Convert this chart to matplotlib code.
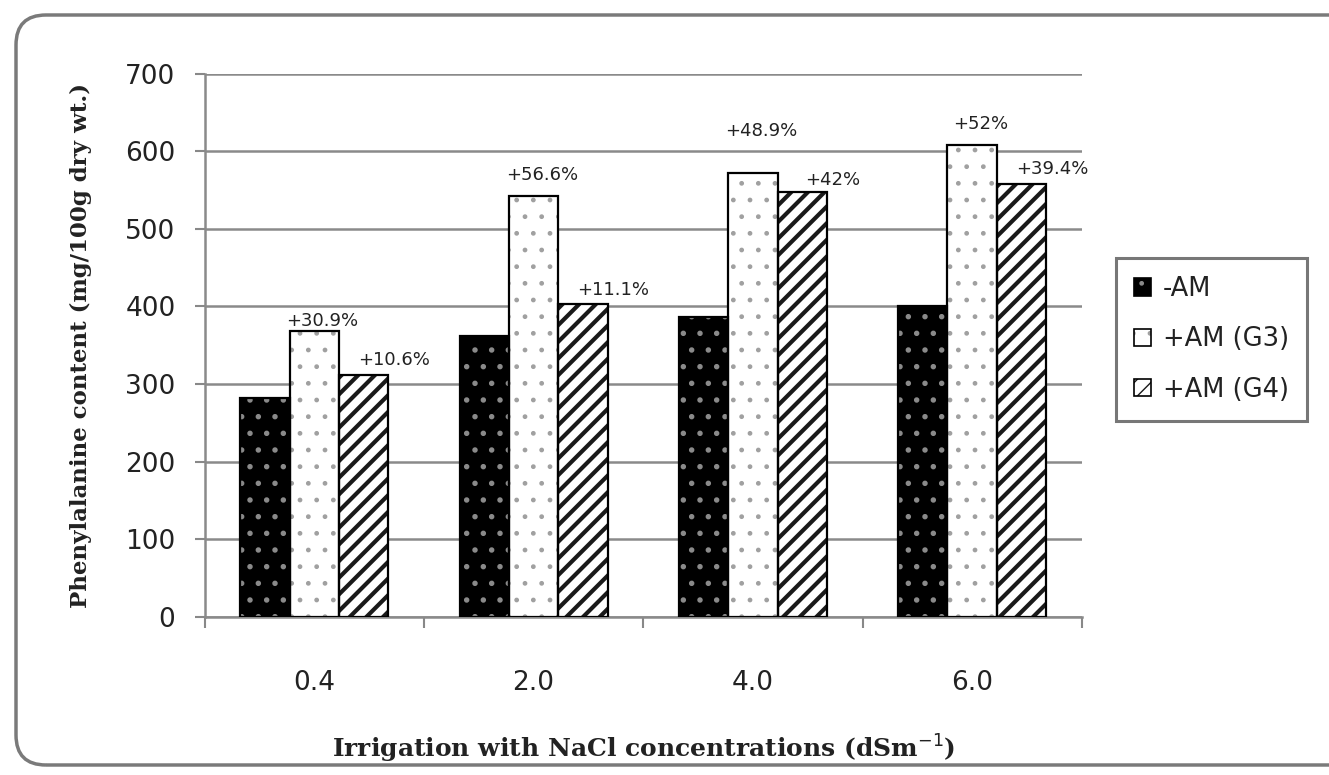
import matplotlib
matplotlib.use('Agg')
import matplotlib.pyplot as plt
from matplotlib.patches import FancyBboxPatch, Patch
from matplotlib.transforms import IdentityTransform
import numpy as np

concentrations = ['0.4', '2.0', '4.0', '6.0']
series_names = ['-AM', '+AM (G3)', '+AM (G4)']
no_am = [282, 362, 387, 400]
am_g3 = [368, 542, 572, 608]
am_g4 = [312, 403, 548, 558]
g3_labels = ['+30.9%', '+56.6%', '+48.9%', '+52%']
g4_labels = ['+10.6%', '+11.1%', '+42%', '+39.4%']

fig = plt.figure(figsize=(13.29, 7.75), dpi=100)
ax = fig.add_axes([0.154, 0.204, 0.660, 0.701])

# rounded frame around the whole chart
frame = FancyBboxPatch((16, 10), 1345, 750, boxstyle='round,pad=0,rounding_size=30',
                       transform=IdentityTransform(), facecolor='none',
                       edgecolor='#7a7a7a', linewidth=2.5, zorder=0)
fig.patches.append(frame)

x = np.arange(len(concentrations))
w = 0.225
styles = [
    dict(face='black', hatch='.', hcolor='#8a8a8a', hlw=1.5),
    dict(face='white', hatch='.', hcolor='#a0a0a0', hlw=1.0),
    dict(face='white', hatch='//', hcolor='#1a1a1a', hlw=3.0),
]
values = [no_am, am_g3, am_g4]


def hatch_width(artist, lw):
    if hasattr(artist, 'set_hatch_linewidth'):
        artist.set_hatch_linewidth(lw)


handles = []
for i, (vals, st) in enumerate(zip(values, styles)):
    pos = x + (i - 1) * w
    with plt.rc_context({'hatch.linewidth': st['hlw']}):
        bars = ax.bar(pos, vals, w, color=st['face'], hatch=st['hatch'],
                      edgecolor=st['hcolor'], linewidth=0, zorder=3)
        for b in bars:
            hatch_width(b, st['hlw'])
        hp = Patch(facecolor=st['face'], hatch=st['hatch'], edgecolor=st['hcolor'], linewidth=0)
        hatch_width(hp, st['hlw'])
    ax.bar(pos, vals, w, fill=False, edgecolor='black', linewidth=1.6, zorder=4)
    handles.append((hp, Patch(fill=False, edgecolor='black', linewidth=1.2)))

# percentage labels above the inoculated bars
g3_dy = [1, 9, 24, 9]
g4_dy = [4, 4, 2, 4]
for i in range(len(concentrations)):
    ax.annotate(g3_labels[i], (x[i], am_g3[i]), xytext=(6, g3_dy[i]),
                textcoords='offset points', ha='center', va='bottom',
                fontsize=13, color='#222222', zorder=5)
    ax.annotate(g4_labels[i], (x[i] + w, am_g4[i]), xytext=(22, g4_dy[i]),
                textcoords='offset points', ha='center', va='bottom',
                fontsize=13, color='#222222', zorder=5)

ax.set_ylim(0, 700)
ax.set_xlim(-0.5, 3.5)
ax.set_yticks(range(0, 701, 100))
ax.set_xticks(np.arange(-0.5, 3.6, 1.0))
ax.set_xticklabels([])
ax.set_xticks(x, minor=True)
ax.set_xticklabels(concentrations, minor=True)
ax.tick_params(axis='x', which='minor', length=0, pad=38, labelsize=19, labelcolor='#222222')
ax.tick_params(axis='x', which='major', length=8, width=1.5, color='#888888', direction='out')
ax.tick_params(axis='y', length=7, width=1.5, color='#888888', labelsize=19, labelcolor='#222222', pad=14)

ax.grid(axis='y', color='#8a8a8a', linewidth=1.8, zorder=1)
ax.set_axisbelow(True)
for side in ['top', 'right']:
    ax.spines[side].set_visible(False)
for side in ['left', 'bottom']:
    ax.spines[side].set_color('#8a8a8a')
    ax.spines[side].set_linewidth(1.8)

ax.set_ylabel('Phenylalanine content (mg/100g dry wt.)', family='DejaVu Serif',
              fontweight='bold', fontsize=16.5, color='#222222', labelpad=24)
ax.set_xlabel('Irrigation with NaCl concentrations (dSm$^{-1}$)', family='DejaVu Serif',
              fontweight='bold', fontsize=18, color='#222222', labelpad=27)

leg = fig.legend(handles, series_names, loc='upper left', bbox_to_anchor=(0.840, 0.667),
                 fontsize=18.5, frameon=True, fancybox=False, edgecolor='#555555',
                 handlelength=0.65, handleheight=0.65, handletextpad=0.45,
                 labelspacing=0.95, borderpad=0.7, borderaxespad=0)
leg.get_frame().set_linewidth(2.2)
for t in leg.get_texts():
    t.set_color('#222222')

plt.savefig('out.png', dpi=100)
